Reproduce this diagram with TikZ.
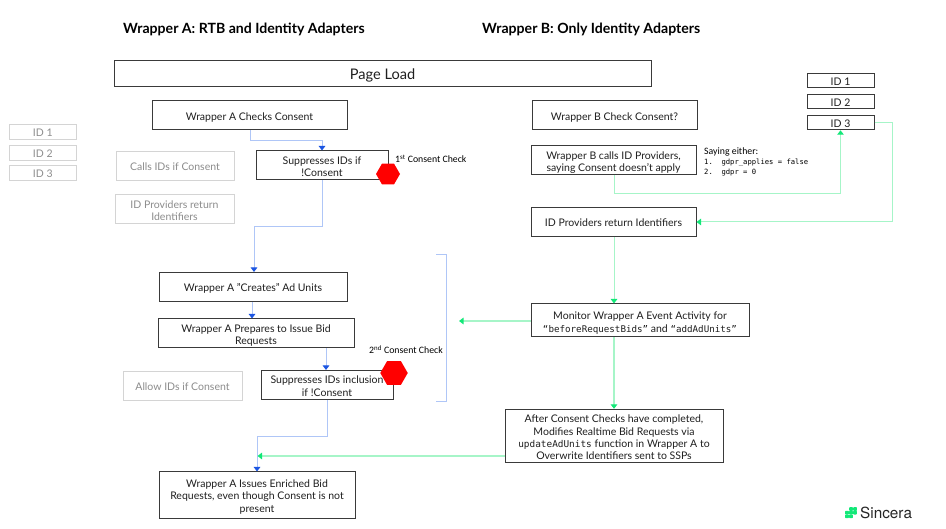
\documentclass[tikz,border=0pt]{standalone}
\usepackage{fontspec}
\setmainfont{Lato}
\setmonofont{DejaVu Sans Mono}
\newfontfamily\notefont{Carlito}
\newfontfamily\logofont{TeX Gyre Heros}
\usetikzlibrary{arrows.meta,shapes.geometric,calc}
\definecolor{boxline}{HTML}{3A3A3A}
\definecolor{graybox}{HTML}{D4D4D4}
\definecolor{graytext}{HTML}{8C8C8C}
\definecolor{blueline}{HTML}{AFC6F7}
\definecolor{bluehead}{HTML}{1B55E2}
\definecolor{greenline}{HTML}{A6F5C8}
\definecolor{greenhead}{HTML}{12E878}
\tikzset{
  pbox/.style={draw=boxline,line width=1pt,fill=white,inner sep=0pt,align=center,font=\fontsize{10.5}{12.4}\selectfont,text=black!88,
    execute at begin node={\rule{0pt}{12pt}},execute at end node={\rule[-2.3pt]{0pt}{2.3pt}}},
  gbox/.style={pbox,draw=graybox,text=graytext},
  twolines/.style={execute at begin node={\rule{0pt}{24.5pt}}},
  twolinesb/.style={execute at begin node={\rule{0pt}{25.5pt}}},
  threelines/.style={execute at begin node={\rule{0pt}{37pt}}},
  fourlines/.style={execute at begin node={\rule{0pt}{50.5pt}}},
  bconn/.style={draw=blueline,line width=1pt,-{Triangle[length=4.5pt,width=6.5pt,color=bluehead,fill=bluehead]}},
  gconn/.style={draw=greenline,line width=1pt,-{Triangle[length=4.5pt,width=6.5pt,color=greenhead,fill=greenhead]}},
  thick link/.style={line width=1.5pt},
  stophex/.style={regular polygon,regular polygon sides=6,fill=red,inner sep=0pt,draw=none},
  note/.style={inner sep=0pt,anchor=west,font=\notefont\fontsize{9.8}{11}\selectfont},
  head/.style={inner sep=0pt,anchor=west,font=\bfseries\fontsize{14.1}{16}\selectfont},
}
\begin{document}
\begin{tikzpicture}[x=1pt,y=-1pt]
\useasboundingbox (0,0) rectangle (946,529);
\fill[white] (0,0) rectangle (946,529);
% headings
\node[head] (hA) at (123,29) {Wrapper A: RTB and Identity Adapters};
\node[head] (hB) at (482,29) {Wrapper B: Only Identity Adapters};
% page load
\node[pbox,minimum width=537pt,minimum height=26pt,font=\fontsize{14.6}{16}\selectfont] (page) at (382.5,74) {\rule{0pt}{14.5pt}Page Load};
% gray column
\node[gbox,minimum width=66.5pt,minimum height=14pt] (gi1) at (42.75,132) {ID 1};
\node[gbox,minimum width=66.5pt,minimum height=14pt] (gi2) at (42.75,153) {ID 2};
\node[gbox,minimum width=66.5pt,minimum height=14pt] (gi3) at (42.75,173) {ID 3};
\node[gbox,minimum width=118pt,minimum height=29pt] (gcalls) at (175,166) {Calls IDs if Consent};
\node[gbox,twolines,minimum width=119pt,minimum height=29pt] (gret) at (174.5,209.5) {ID Providers return\\Identifiers};
\node[gbox,minimum width=119pt,minimum height=29pt] (gallow) at (182.5,386) {Allow IDs if Consent};
% wrapper A
\node[pbox,minimum width=195pt,minimum height=29pt] (ack) at (249.5,115.5) {Wrapper A Checks Consent};
\node[pbox,twolines,minimum width=132pt,minimum height=29pt] (asup) at (322,165.5) {Suppresses IDs if\\!Consent};
\node[pbox,minimum width=188pt,minimum height=29pt] (acr) at (253,287) {Wrapper A "Creates" Ad Units};
\node[pbox,twolines,minimum width=196pt,minimum height=29pt] (apr) at (256,333.5) {Wrapper A Prepares to Issue Bid\\Requests};
\node[pbox,twolines,minimum width=132pt,minimum height=29pt] (asu2) at (327,385) {Suppresses IDs inclusion\\if !Consent};
\node[pbox,threelines,minimum width=196pt,minimum height=46pt] (aiss) at (257,495) {Wrapper A Issues Enriched Bid\\Requests, even though Consent is not\\present};
% wrapper B
\node[pbox,minimum width=165pt,minimum height=29pt] (bck) at (614.5,115.5) {Wrapper B Check Consent?};
\node[pbox,twolines,minimum width=165pt,minimum height=29pt] (bcl) at (613.5,160.5) {Wrapper B calls ID Providers,\\saying Consent doesn't apply};
\node[pbox,minimum width=165pt,minimum height=29pt] (bret) at (613.5,222) {ID Providers return Identifiers};
\node[pbox,twolinesb,minimum width=218pt,minimum height=33pt] (bmon) at (640,320.5) {Monitor Wrapper A Event Activity for\\\texttt{\fontsize{9.2}{12.4}\selectfont “beforeRequestBids”} and \texttt{\fontsize{9.2}{12.4}\selectfont “addAdUnits”}};
\node[pbox,fourlines,minimum width=218pt,minimum height=52.5pt] (baft) at (614,435.75) {After Consent Checks have completed,\\Modifies Realtime Bid Requests via\\\texttt{\fontsize{9.4}{12.4}\selectfont updateAdUnits} function in Wrapper A to\\Overwrite Identifiers sent to SSPs};
\node[pbox,minimum width=67pt,minimum height=14.5pt] (i1) at (840.5,80.75) {ID 1};
\node[pbox,minimum width=67pt,minimum height=14.5pt] (i2) at (840.5,101.75) {ID 2};
\node[pbox,minimum width=67pt,minimum height=14.5pt] (i3) at (840.5,122.5) {ID 3};
% stop signs and notes
\node[stophex,minimum size=24pt] (stop1) at (388,174) {};
\node[stophex,minimum size=27.5pt] (stop2) at (394,373) {};
\node[note] (n1) at (395,159) {1\textsuperscript{st} Consent Check};
\node[note] (n2) at (369,349.5) {2\textsuperscript{nd} Consent Check};
\node[inner sep=0pt,anchor=north west,align=left,font=\notefont\fontsize{9.8}{10}\selectfont] (say) at (704,147.5) {Saying either:\\{\ttfamily\fontsize{7.2}{10}\selectfont 1.\ \ gdpr\_applies = false}\\{\ttfamily\fontsize{7.2}{10}\selectfont 2.\ \ gdpr = 0}};
% bracket
\coordinate (brt) at (436,255);
\coordinate (brb) at (436,402);
\draw[blueline,line width=1pt] (brt) -- ++(10.5,0) -- ($(brb)+(10.5,0)$) -- (brb);
% blue connectors
\coordinate (v1) at (250,0);
\draw[bconn] (ack.south -| v1) -- ++(0,10.5) -| (asup.north);
\coordinate (v2) at (254,0);
\draw[bconn] (asup.south) -- ++(0,46) -| (acr.north -| v2);
\coordinate (v3) at (252,0);
\draw[bconn] (acr.south -| v3) -- (apr.north -| v3);
\coordinate (v4) at (326,0);
\draw[bconn] (apr.south -| v4) -- (asu2.north -| v4);
\draw[bconn] (asu2.south) -- ++(0,37) -| (aiss.north);
% green connectors
\coordinate (mrg) at (257.5,456);
\coordinate (brin) at (459,321);
\coordinate (g1) at (614,0);
\coordinate (g2) at (892.5,0);
\draw[gconn] (bcl.south -| g1) -- ++(0,18.5) -| (i3.south);
\draw[gconn] (i3.east) -| (g2 |- bret.east) -- (bret.east);
\draw[gconn] (bret.south -| g1) -- (bmon.north -| g1);
\draw[gconn,thick link] (bmon.west |- brin) -- (brin);
\draw[gconn,thick link] (bmon.south -| g1) -- (baft.north -| g1);
\draw[gconn,thick link] (baft.west |- mrg) -- (mrg);
% logo
\foreach \px/\py in {851/509,855/509,847/512.7,851/512.7,855/512.7,847/516.4,851/516.4}
  \fill[greenhead,rounded corners=0.6pt] (\px-1.8,\py-1.8) rectangle (\px+1.8,\py+1.8);
\node[inner sep=0pt,anchor=west,font=\logofont\fontsize{15.3}{17}\selectfont,text=black!85] (logo) at (860,512.5) {Sincera};
\end{tikzpicture}
\end{document}
